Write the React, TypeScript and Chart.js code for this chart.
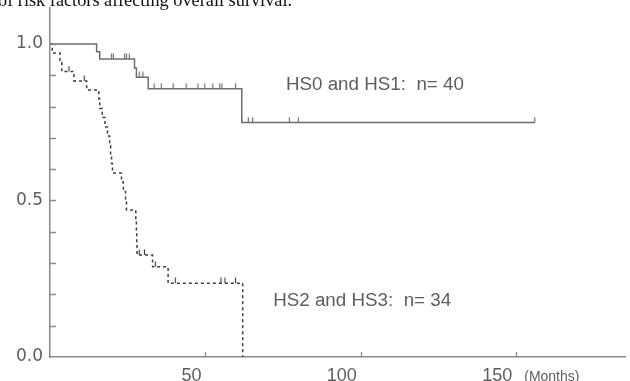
import React, { useEffect, useRef } from 'react';
import { Chart, registerables } from 'chart.js';

Chart.register(...registerables);

// ---- data ----
// HS0 and HS1 group: step times (months) and survival after each step
const solidTimes = [0, 15, 16, 27.2, 27.8, 31.6, 61.7, 156];
const solidSurv = [1.0, 0.975, 0.952, 0.923, 0.894, 0.857, 0.749, 0.749];
// censored observations of HS0/HS1
const solidCensorTimes = [19.8, 20.4, 24.0, 24.6, 25.5, 28.7, 29.9, 33.5, 35.8, 39.6, 43.8, 47.6, 49.8, 52.4, 54.6, 55.3, 59.7, 63.8, 65.2, 77.0, 79.9, 156];
const solidCensorSurv = [0.952, 0.952, 0.952, 0.952, 0.952, 0.894, 0.894, 0.857, 0.857, 0.857, 0.857, 0.857, 0.857, 0.857, 0.857, 0.857, 0.857, 0.749, 0.749, 0.749, 0.749, 0.749];

// HS2 and HS3 group
const dashTimes = [0, 0.7, 3.2, 3.8, 7.7, 11.8, 15.7, 16.0, 16.8, 17.7, 18.5, 19.2, 19.5, 19.8, 20.1, 23.0, 23.6, 24.3, 24.6, 27.6, 27.8, 27.9, 28.0, 33.0, 38.0, 62.0];
const dashSurv = [1.0, 0.971, 0.941, 0.912, 0.882, 0.853, 0.824, 0.794, 0.765, 0.735, 0.706, 0.676, 0.647, 0.618, 0.588, 0.559, 0.529, 0.5, 0.47, 0.44, 0.40, 0.36, 0.326, 0.288, 0.236, 0];
const dashCensorTimes = [6.1, 11.0, 28.7, 30.4, 33.9, 40.3, 55.0, 56.3, 59.7];
const dashCensorSurv = [0.912, 0.882, 0.326, 0.326, 0.288, 0.236, 0.236, 0.236, 0.236];

// axes
const xTickValues = [50, 100, 150];
const xTickLabels = ['50', '100', '150'];
const yTickValues = [0, 0.1, 0.2, 0.3, 0.4, 0.5, 0.6, 0.7, 0.8, 0.9, 1.0];
const yTickLabels = ['0.0', '', '', '', '', '0.5', '', '', '', '', '1.0'];
const xUnitLabel = '(Months)';

// texts
const titleText = 'of risk factors affecting overall survival.';
const groupLabels = ['HS0 and HS1:  n= 40', 'HS2 and HS3:  n= 34'];

// ---- styles / positions (not data) ----
const X_MAX = 185;
const Y_MAX = 1.115;
const groupLabelPos = [
  { x: 75.9, y: 0.869 },
  { x: 71.8, y: 0.179 },
];
const axisColor = '#8a8a8a';
const textColor = '#5e5e5e';
const solidColor = '#6e6e6e';
const dashColor = '#3f3f3f';

function makeCensorMark(color: string): HTMLCanvasElement {
  const c = document.createElement('canvas');
  c.width = 3;
  c.height = 12;
  const ctx = c.getContext('2d')!;
  ctx.strokeStyle = color;
  ctx.lineWidth = 1.2;
  ctx.beginPath();
  ctx.moveTo(1.5, 0.5);
  ctx.lineTo(1.5, 6);
  ctx.stroke();
  return c;
}

const zip = (xs: number[], ys: number[]) => xs.map((x, i) => ({ x, y: ys[i] }));

const decorPlugin = {
  id: 'decor',
  afterDraw(chart: any) {
    const { ctx } = chart;
    const x = chart.scales.x;
    const y = chart.scales.y;
    ctx.save();
    // inward tick marks
    ctx.strokeStyle = axisColor;
    ctx.lineWidth = 1.3;
    ctx.beginPath();
    for (const v of yTickValues) {
      if (v === 0) continue;
      const py = Math.round(y.getPixelForValue(v)) + 0.5;
      ctx.moveTo(x.left, py);
      ctx.lineTo(x.left + 6, py);
    }
    for (const v of xTickValues) {
      const px = Math.round(x.getPixelForValue(v)) + 0.5;
      ctx.moveTo(px, y.bottom);
      ctx.lineTo(px, y.bottom - 5);
    }
    ctx.stroke();

    // group labels
    ctx.fillStyle = textColor;
    ctx.font = '18.8px "Liberation Sans", Arial, sans-serif';
    ctx.textAlign = 'left';
    ctx.textBaseline = 'middle';
    groupLabels.forEach((t, i) => {
      ctx.fillText(t, x.getPixelForValue(groupLabelPos[i].x), y.getPixelForValue(groupLabelPos[i].y));
    });

    // unit label
    ctx.font = '14px "Liberation Sans", Arial, sans-serif';
    ctx.textBaseline = 'alphabetic';
    ctx.fillText(xUnitLabel, x.getPixelForValue(150) + 8, chart.height);

    // clipped caption at the top
    ctx.fillStyle = '#111';
    ctx.font = '18.3px "Liberation Serif", "Times New Roman", serif';
    ctx.fillText(titleText, -2, 6);
    ctx.restore();
  },
};

export default function App() {
  const ref = useRef<HTMLCanvasElement>(null);
  useEffect(() => {
    if (!ref.current) return;
    const solidMark = makeCensorMark(solidColor);
    const dashMark = makeCensorMark(dashColor);
    const chart = new Chart(ref.current, {
      type: 'line',
      data: {
        datasets: [
          {
            data: zip(solidTimes, solidSurv),
            stepped: 'before',
            borderColor: solidColor,
            borderWidth: 1.5,
            pointRadius: 0,
            fill: false,
          },
          {
            data: zip(dashTimes, dashSurv),
            stepped: 'before',
            borderColor: dashColor,
            borderWidth: 1.5,
            borderDash: [3, 3],
            pointRadius: 0,
            fill: false,
          },
          {
            data: zip(solidCensorTimes, solidCensorSurv),
            showLine: false,
            pointStyle: solidMark as any,
            pointRadius: 3,
          },
          {
            data: zip(dashCensorTimes, dashCensorSurv),
            showLine: false,
            pointStyle: dashMark as any,
            pointRadius: 3,
          },
        ],
      },
      options: {
        responsive: false,
        animation: false,
        devicePixelRatio: 1,
        layout: { padding: { top: 8, left: 0, right: 0, bottom: 0 } },
        plugins: { legend: { display: false }, tooltip: { enabled: false }, title: { display: false } },
        scales: {
          x: {
            type: 'linear',
            min: 0,
            max: X_MAX,
            afterBuildTicks: (s: any) => {
              s.ticks = xTickValues.map((v) => ({ value: v }));
            },
            afterFit: (s: any) => {
              s.height = 24;
              s.paddingLeft = 0;
              s.paddingRight = 0;
              s.paddingTop = 0;
              s.paddingBottom = 0;
            },
            grid: { display: false, drawTicks: false },
            border: { display: true, color: axisColor, width: 1.5 },
            ticks: {
              autoSkip: false,
              maxRotation: 0,
              align: 'end',
              labelOffset: -4,
              padding: 8,
              color: textColor,
              font: { family: '"Liberation Sans", Arial, sans-serif', size: 18 },
              callback: (v: any) => {
                const i = xTickValues.indexOf(Number(v));
                return i >= 0 ? xTickLabels[i] : '';
              },
            },
          },
          y: {
            type: 'linear',
            min: 0,
            max: Y_MAX,
            afterBuildTicks: (s: any) => {
              s.ticks = yTickValues.map((v) => ({ value: v }));
            },
            afterFit: (s: any) => {
              s.width = 50;
              s.paddingLeft = 0;
              s.paddingRight = 0;
              s.paddingTop = 0;
              s.paddingBottom = 0;
            },
            grid: { display: false, drawTicks: false },
            border: { display: true, color: axisColor, width: 1.5 },
            ticks: {
              autoSkip: false,
              padding: 7,
              color: textColor,
              font: { family: '"DejaVu Sans", sans-serif', size: 17 },
              callback: (v: any) => {
                const i = yTickValues.findIndex((t) => Math.abs(t - Number(v)) < 1e-9);
                return i >= 0 ? yTickLabels[i] : '';
              },
            },
          },
        },
      },
      plugins: [decorPlugin],
    } as any);
    return () => chart.destroy();
  }, []);
  return (
    <div style={{ position: 'fixed', left: 0, top: 0, width: 630, height: 381, background: '#fff' }}>
      <canvas ref={ref} width={630} height={381} style={{ display: 'block' }} />
    </div>
  );
}
